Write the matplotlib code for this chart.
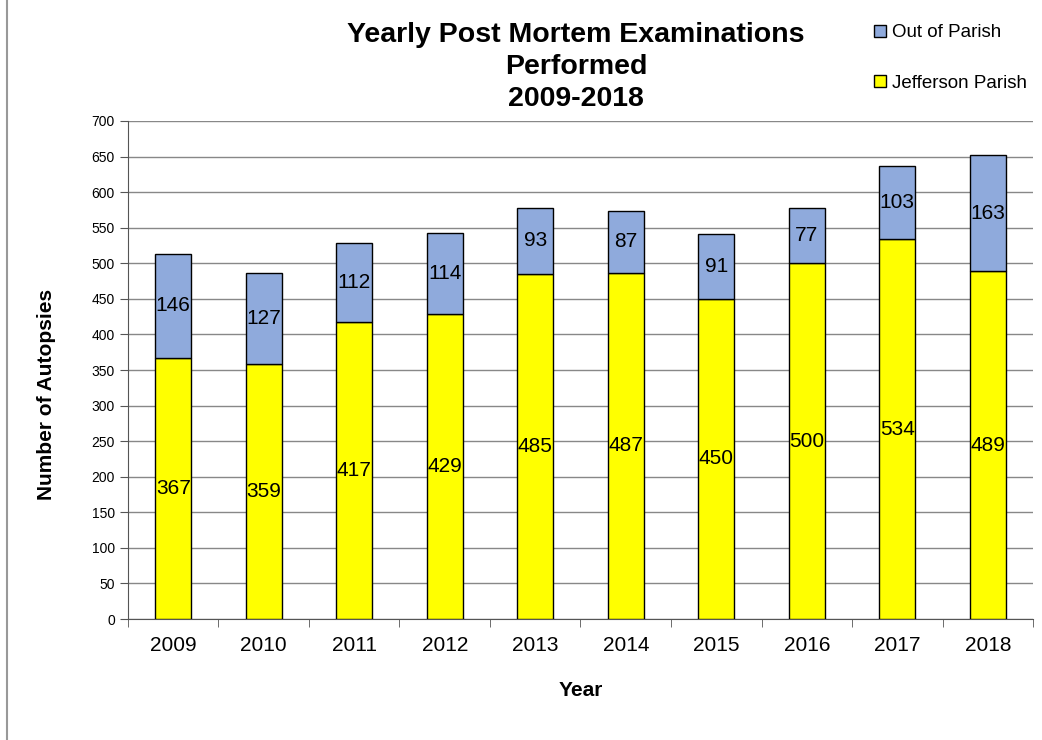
import matplotlib.pyplot as plt
from matplotlib.lines import Line2D
import numpy as np

plt.rcParams['font.family'] = ['Liberation Sans', 'DejaVu Sans']

years = ['2009', '2010', '2011', '2012', '2013', '2014', '2015', '2016', '2017', '2018']
jefferson = [367, 359, 417, 429, 485, 487, 450, 500, 534, 489]
out_of_parish = [146, 127, 112, 114, 93, 87, 91, 77, 103, 163]

fig = plt.figure(figsize=(10.42, 7.40), dpi=100)
ax = fig.add_axes([0.1228, 0.1635, 0.8686, 0.673])

x = np.arange(len(years))
b1 = ax.bar(x, jefferson, width=0.4, color='#FFFF00', edgecolor='black', linewidth=1,
            label='Jefferson Parish', zorder=3)
b2 = ax.bar(x, out_of_parish, width=0.4, bottom=jefferson, color='#8FAADC', edgecolor='black',
            linewidth=1, label='Out of Parish', zorder=3)

for i in range(len(years)):
    ax.text(x[i], jefferson[i] / 2, str(jefferson[i]), ha='center', va='center', fontsize=15, zorder=4)
    ax.text(x[i], jefferson[i] + out_of_parish[i] / 2, str(out_of_parish[i]), ha='center',
            va='center', fontsize=15, zorder=4)

ax.set_xlim(-0.5, len(years) - 0.5)
ax.set_ylim(0, 700)
ax.set_yticks(range(0, 701, 50))
ax.tick_params(axis='y', labelsize=10, length=6, color='#555555', direction='out')
ax.set_xticks(x)
ax.set_xticklabels(years, fontsize=15)
ax.set_xticks(np.arange(-0.5, len(years), 1), minor=True)
ax.tick_params(axis='x', which='major', length=0, pad=12)
ax.tick_params(axis='x', which='minor', length=6, color='#555555')
ax.yaxis.grid(True, color='#888888', linewidth=1, zorder=0)

for s in ['top', 'right']:
    ax.spines[s].set_visible(False)
ax.spines['left'].set_color('#555555')
ax.spines['bottom'].set_color('#555555')

ax.set_xlabel('Year', fontsize=15, fontweight='bold', labelpad=19)
ax.set_ylabel('Number of Autopsies', fontsize=15, fontweight='bold')
ax.yaxis.set_label_coords(-0.079, 0.45)

fig.text(0.553, 0.970, 'Yearly Post Mortem Examinations\nPerformed\n2009-2018', ha='center', va='top',
         fontsize=20.5, fontweight='bold', linespacing=1.3)

fig.legend([b2, b1], ['Out of Parish', 'Jefferson Parish'], loc='upper left',
           bbox_to_anchor=(0.823, 0.99), frameon=False, fontsize=13.5, handlelength=0.6,
           handleheight=0.6, handletextpad=0.35, labelspacing=1.8)

fig.add_artist(Line2D([0.0067, 0.0067], [0, 1], transform=fig.transFigure, color='#999999', linewidth=1.5))

plt.savefig('out.png', dpi=100)
